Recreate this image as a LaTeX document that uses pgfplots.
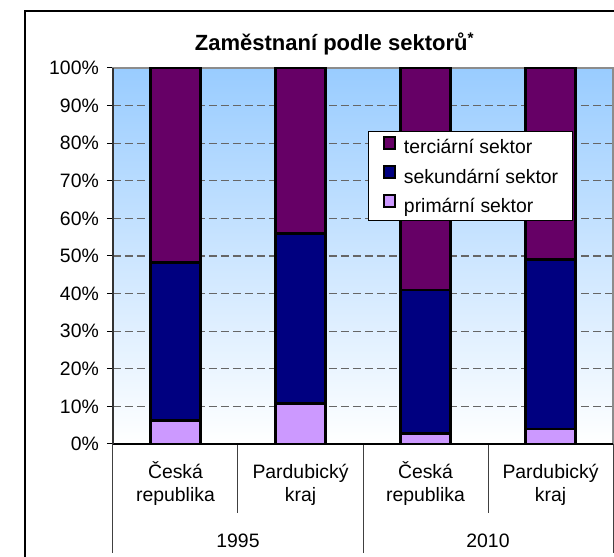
\documentclass[border=0pt]{standalone}
\usepackage{fontspec}
\setmainfont{Liberation Sans}
\usepackage{pgfplots}
\pgfplotsset{compat=1.18}
\definecolor{prim}{HTML}{CC99FF}
\definecolor{seku}{HTML}{000080}
\definecolor{terc}{HTML}{660066}
\definecolor{bgtop}{HTML}{99CCFF}
\newcommand\lbl{\fontsize{19.4}{23}\selectfont}
% square legend swatch: black outer square, coloured inner square
\pgfplotsset{sqleg/.style={legend image code/.code={%
  \fill[black] (0pt,0pt) rectangle (11pt,12pt);
  \fill[#1] (2pt,2pt) rectangle (9pt,10pt);}}}

\begin{document}
\begin{tikzpicture}
\useasboundingbox (-113pt,-113pt) rectangle (501pt,444pt);
\draw[line width=1.5pt] (-88pt,-120pt) -- (-88pt,433pt) -- (510pt,433pt);
\node[anchor=base, font=\bfseries\fontsize{22}{26}\selectfont] at (221.5pt,393pt)
  {Zaměstnaní podle sektorů\textsuperscript{*}};
\begin{axis}[
  at={(0pt,0pt)}, anchor=south west, scale only axis,
  width=500pt, height=376pt,
  ybar stacked, bar width=50pt,
  xmin=0.5, xmax=4.5, ymin=0, ymax=100,
  xtick={1,2,3,4},
  xticklabels={{\rule{0pt}{18pt}Česká\\republika},{\rule{0pt}{18pt}Pardubický\\kraj},
    {\rule{0pt}{18pt}Česká\\republika},{\rule{0pt}{18pt}Pardubický\\kraj}},
  xticklabel style={align=center, anchor=north, inner sep=0pt, font=\lbl, yshift=-10pt},
  xtick style={draw=none},
  ytick={0,10,...,100},
  yticklabels={0\%,10\%,20\%,30\%,40\%,50\%,60\%,70\%,80\%,90\%,100\%},
  yticklabel style={font=\lbl, inner sep=0pt, anchor=east, xshift=-8pt},
  tick align=outside, major tick length=6pt,
  ytick style={draw=black, line width=1pt},
  ymajorgrids,
  major grid style={draw=black!60, line width=1.2pt, dash pattern=on 8pt off 4pt},
  axis line style={draw=black!45, line width=1.2pt},
  axis background/.style={top color=bgtop, bottom color=white},
  clip=false,
  every axis plot/.append style={draw=black, line width=2.4pt},
  reverse legend,
  legend cell align=left,
  legend style={at={(0.51,0.8324)}, anchor=north west, draw=black, line width=1.2pt,
    fill=white, font=\lbl, inner xsep=14pt, inner ysep=4pt, row sep=7pt,
    nodes={inner sep=0pt, text height=14pt, text depth=4pt},
    /tikz/every odd column/.append style={column sep=8pt}},
]
\addplot[fill=prim, sqleg=prim] coordinates {(1,6.2) (2,10.8) (3,2.8) (4,4.0)};
\addlegendentry{primární sektor}
\addplot[fill=seku, sqleg=seku] coordinates {(1,42.1) (2,45.2) (3,38.2) (4,45.1)};
\addlegendentry{sekundární sektor}
\addplot[fill=terc, sqleg=terc] coordinates {(1,51.7) (2,44.0) (3,59.0) (4,50.9)};
\addlegendentry{terciární sektor}

\draw[black!80, line width=1.2pt] (axis cs:0.5,0) -- (axis cs:0.5,100);
\draw[black, line width=1.2pt] (axis cs:0.5,0) -- (axis cs:4.5,0);
\draw[black!75, line width=1pt] (axis cs:0.5,0) -- ++(0pt,-109pt);
\draw[black!75, line width=1pt] (axis cs:2.5,0) -- ++(0pt,-109pt);
\draw[black!75, line width=1pt] (axis cs:4.5,0) -- ++(0pt,-109pt);
\draw[black!75, line width=1pt] (axis cs:1.5,0) -- ++(0pt,-69pt);
\draw[black!75, line width=1pt] (axis cs:3.5,0) -- ++(0pt,-69pt);
\node[font=\lbl, anchor=base] at ([yshift=-103pt]axis cs:1.5,0) {1995};
\node[font=\lbl, anchor=base] at ([yshift=-103pt]axis cs:3.5,0) {2010};
\end{axis}
\end{tikzpicture}
\end{document}
